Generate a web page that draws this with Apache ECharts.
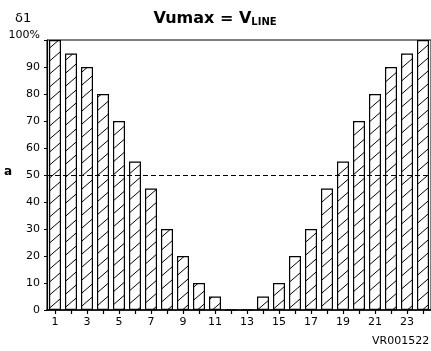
<!DOCTYPE html>
<html>
<head>
<meta charset="utf-8">
<script src="https://cdn.jsdelivr.net/npm/echarts@6/dist/echarts.min.js"></script>
<style>
html,body{margin:0;padding:0;background:#fff;}
#c{width:431px;height:351px;}
</style>
</head>
<body>
<div id="c"></div>
<script>
const categories = ['1','2','3','4','5','6','7','8','9','10','11','12','13','14','15','16','17','18','19','20','21','22','23','24'];
const values = [100,95,90,80,70,55,45,30,20,10,5,0,0,5,10,20,30,45,55,70,80,90,95,100];
const refLevel = [50];
const yTicks = {min:0, max:100, interval:10};

function hatch(){
  const W = 15, H = 13;
  const cv = document.createElement('canvas');
  cv.width = W; cv.height = H;
  const g = cv.getContext('2d');
  g.fillStyle = '#fff';
  g.fillRect(0,0,W,H);
  g.strokeStyle = '#000';
  g.lineWidth = 1;
  const s = H / W;
  g.beginPath();
  g.moveTo(-2, H + 2*s); g.lineTo(W + 2, -2*s);
  g.moveTo(-2, 2*s); g.lineTo(2, -2*s);
  g.moveTo(W - 2, H + 2*s); g.lineTo(W + 2, H - 2*s);
  g.stroke();
  return cv;
}

const chart = echarts.init(document.getElementById('c'), null, {renderer:'canvas'});
const F = 'DejaVu Sans';
chart.setOption({
  animation:false,
  backgroundColor:'#fff',
  title:{
    text:'{a|Vumax = V}{b|LINE}',
    left:210, top:4, textAlign:'center',
    textStyle:{
      rich:{
        a:{fontFamily:F, fontWeight:'bold', fontSize:16, color:'#000', verticalAlign:'bottom', lineHeight:18},
        b:{fontFamily:F, fontWeight:'bold', fontSize:10, color:'#000', verticalAlign:'bottom', lineHeight:18}
      }
    }
  },
  grid:{left:47, right:-3, top:40, bottom:41, show:true, borderColor:'#000', borderWidth:1, backgroundColor:'transparent'},
  xAxis:{
    type:'category', data:categories,
    axisLine:{lineStyle:{color:'#000', width:1.5}},
    axisTick:{show:true, alignWithLabel:true, interval:0, length:4, lineStyle:{color:'#000', width:1.2}},
    axisLabel:{interval:1, color:'#000', fontFamily:F, fontSize:11, margin:7}
  },
  yAxis:{
    type:'value', min:yTicks.min, max:yTicks.max, interval:yTicks.interval,
    axisLine:{show:true, lineStyle:{color:'#000', width:1.2}},
    axisTick:{show:true, length:3, lineStyle:{color:'#000'}},
    splitLine:{show:false},
    axisLabel:{color:'#000', fontFamily:F, fontSize:11, margin:7,
      formatter:function(v){return v===100 ? '{t|100%}' : String(v);},
      rich:{t:{fontFamily:F, fontSize:11, color:'#000', padding:[0,0,9,0]}}}
  },
  series:[{
    type:'bar', data:values, barWidth:12,
    itemStyle:{color:{image:hatch(), repeat:'repeat'}, borderColor:'#000', borderWidth:1.2},
    markLine:{
      silent:true, symbol:'none', label:{show:false},
      lineStyle:{color:'#000', type:[5,3], width:1},
      data: refLevel.map(v => ({yAxis:v}))
    }
  }],
  graphic:[
    {type:'text', left:15, top:12, style:{text:'δ1', font:'13px "DejaVu Sans"', fill:'#000'}},
    {type:'text', left:4, top:166, style:{text:'a', font:'bold 12px "DejaVu Sans"', fill:'#000'}},
    {type:'text', left:372, top:336, style:{text:'VR001522', font:'11px "DejaVu Sans"', fill:'#000'}}
  ]
});
</script>
</body>
</html>
